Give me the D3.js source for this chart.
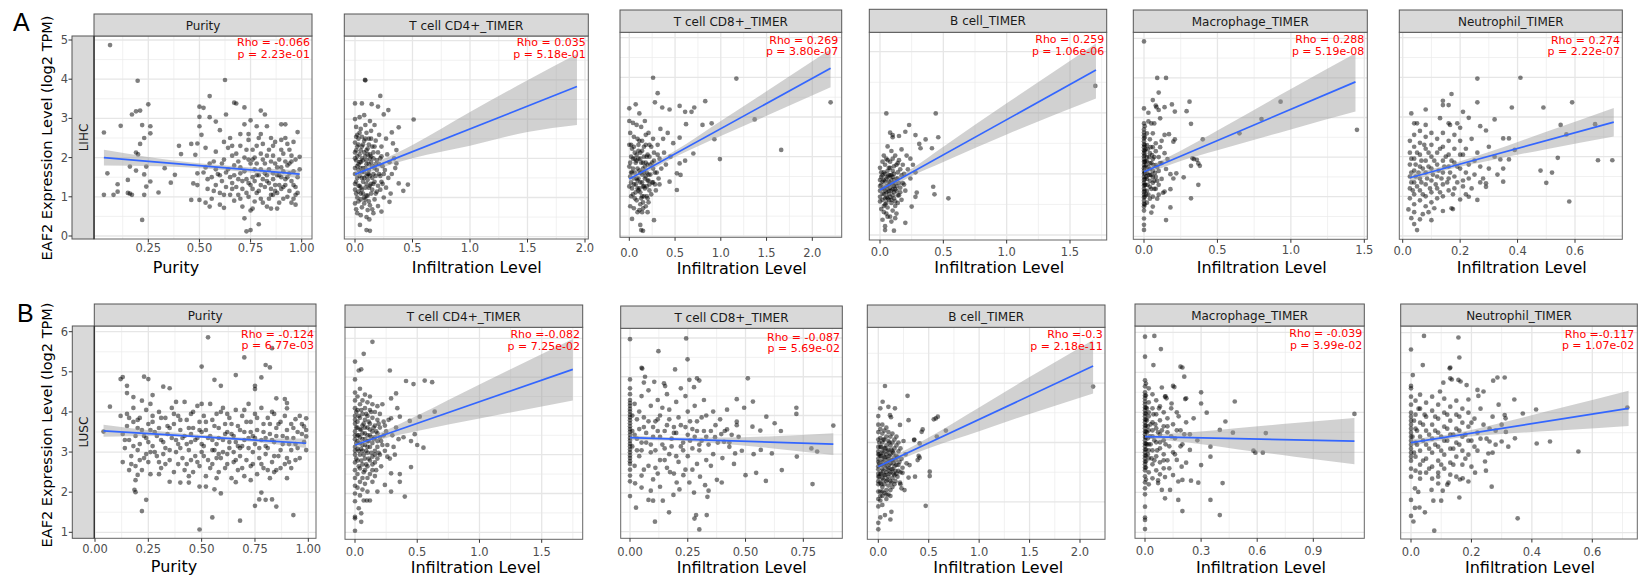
<!DOCTYPE html>
<html><head><meta charset="utf-8">
<script src="https://cdn.jsdelivr.net/npm/d3@7"></script>
<style>body{margin:0;background:#fff}</style>
</head><body><svg id="c" width="1644" height="579"></svg>
<script>
// ---------------- DATA ----------------
const cellTypes = ["Purity","T cell CD4+_TIMER","T cell CD8+_TIMER","B cell_TIMER","Macrophage_TIMER","Neutrophil_TIMER"];
const cancers = ["LIHC","LUSC"];
const rowLetters = ["A","B"];
const xTitles = ["Purity","Infiltration Level","Infiltration Level","Infiltration Level","Infiltration Level","Infiltration Level"];
const yTitle = "EAF2 Expression Level (log2 TPM)";
const rhoLabels = ["Rho = -0.066","Rho = 0.035","Rho = 0.269","Rho = 0.259","Rho = 0.288","Rho = 0.274",
                   "Rho = -0.124","Rho =-0.082","Rho = -0.087","Rho =-0.3","Rho = -0.039","Rho =-0.117"];
const pLabels = ["p = 2.23e-01","p = 5.18e-01","p = 3.80e-07","p = 1.06e-06","p = 5.19e-08","p = 2.22e-07",
                 "p = 6.77e-03","p = 7.25e-02","p = 5.69e-02","p = 2.18e-11","p = 3.99e-02","p = 1.07e-02"];
const xTicks = [[0.25,0.5,0.75,1.0],[0,0.5,1,1.5,2],[0,0.5,1,1.5,2],[0,0.5,1,1.5],[0,0.5,1,1.5],[0,0.2,0.4,0.6],
                [0,0.25,0.5,0.75,1.0],[0,0.5,1,1.5],[0,0.25,0.5,0.75],[0,0.5,1,1.5,2],[0,0.3,0.6,0.9],[0,0.2,0.4,0.6]];
const xTickFormat = [".2f",".1f",".1f",".1f",".1f",".1f",".2f",".1f",".2f",".1f",".1f",".1f"];
const yTickLabelsA = [0,1,2,3,4,5];
const yTickLabelsB = [1,2,3,4,5,6];

const fitLines = [
  [[0.033,2.0],[0.99,1.58]],[[0,1.59],[1.93,3.83]],[[0,1.44],[2.2,4.23]],[[0,1.47],[1.705,5.40]],[[0,1.63],[1.44,3.90]],[[0.025,1.47],[0.735,2.87]],
  [[0.04,3.53],[0.99,3.22]],[[0,3.25],[1.75,5.20]],[[0,3.43],[0.88,3.26]],[[0,3.19],[2.13,6.57]],[[0,3.39],[1.12,3.28]],[[0,3.25],[0.72,4.11]]
];
const bands = [
  [[0.033,1.8,2.2],[0.3,1.78,1.98],[0.6,1.69,1.81],[0.8,1.59,1.73],[0.99,1.48,1.68]],
  [[0,1.49,1.69],[0.25,1.78,1.98],[0.5,2.0,2.34],[1.0,2.32,3.18],[1.5,2.67,3.99],[1.93,2.85,4.66]],
  [[0,1.34,1.54],[0.5,1.99,2.15],[1.0,2.52,2.9],[1.5,3.03,3.65],[2.2,3.75,4.71]],
  [[0,1.32,1.62],[0.25,1.93,2.17],[0.5,2.39,2.89],[1.0,3.29,4.31],[1.705,4.47,6.27]],
  [[0,1.55,1.71],[0.25,1.9,2.16],[0.5,2.17,2.67],[1.0,2.7,3.72],[1.44,3.15,4.62]],
  [[0.025,1.36,1.58],[0.15,1.66,1.78],[0.3,1.9,2.12],[0.5,2.19,2.63],[0.735,2.51,3.23]],
  [[0.04,3.38,3.68],[0.3,3.4,3.52],[0.55,3.33,3.41],[0.8,3.22,3.34],[0.99,3.1,3.34]],
  [[0,3.17,3.33],[0.25,3.43,3.63],[0.5,3.61,4.01],[1.0,3.93,4.81],[1.75,4.4,5.98]],
  [[0,3.37,3.49],[0.2,3.35,3.43],[0.4,3.27,3.43],[0.6,3.16,3.46],[0.88,2.98,3.54]],
  [[0,3.07,3.31],[0.25,3.47,3.71],[0.5,3.81,4.17],[1.0,4.38,5.18],[1.5,4.96,6.2],[2.13,5.65,7.45]],
  [[0,3.35,3.43],[0.25,3.23,3.5],[0.5,3.07,3.61],[0.8,2.89,3.73],[1.12,2.7,3.86]],
  [[0,3.17,3.33],[0.15,3.37,3.49],[0.3,3.47,3.75],[0.5,3.56,4.13],[0.72,3.67,4.55]]
];

const lihcPurity = [[0.063,4.87],[0.198,3.96],[0.625,3.98],[0.55,3.57],[0.033,2.64],[0.115,2.81],[0.17,3.1],[0.19,3.18],[0.21,3.2],[0.25,3.36],[0.22,2.83],[0.26,2.8],[0.26,2.62],[0.23,2.5],[0.21,2.35],[0.19,2.13],[0.2,2.08],[0.16,1.77],[0.24,1.77],[0.19,1.67],[0.05,1.6],[0.1,1.32],[0.1,1.13],[0.15,1.43],[0.15,1.1],[0.16,1.08],[0.033,1.05],[0.08,1.05],[0.17,1.05],[0.23,1.05],[0.23,1.57],[0.26,1.39],[0.24,1.26],[0.22,0.41],[0.3,1.11],[0.33,1.73],[0.36,1.36],[0.38,1.56],[0.4,2.3],[0.41,2.09],[0.46,2.35],[0.46,0.92],[0.5,3.3],[0.52,3.27],[0.5,3.04],[0.5,2.8],[0.51,2.58],[0.49,2.36],[0.48,2.07],[0.49,1.6],[0.47,1.34],[0.49,1.3],[0.5,0.92],[0.55,3.03],[0.58,2.92],[0.6,2.7],[0.55,1.85],[0.53,1.75],[0.57,1.9],[0.56,1.5],[0.54,1.2],[0.58,1.3],[0.6,1.1],[0.56,0.95],[0.53,0.85],[0.62,0.72],[0.6,1.55],[0.62,1.95],[0.63,3.1],[0.65,2.5],[0.66,2.05],[0.64,1.7],[0.66,1.35],[0.65,1.05],[0.67,3.4],[0.68,3.38],[0.7,2.3],[0.69,1.9],[0.7,1.6],[0.68,1.25],[0.7,0.95],[0.71,0.75],[0.72,0.45],[0.73,0.12],[0.75,0.15],[0.72,2.85],[0.72,3.28],[0.74,2.6],[0.75,2.95],[0.76,2.2],[0.74,1.95],[0.73,1.45],[0.75,1.3],[0.74,1.0],[0.76,0.7],[0.75,0.65],[0.78,2.8],[0.8,3.2],[0.82,3.1],[0.79,2.5],[0.8,2.1],[0.78,1.85],[0.79,1.55],[0.8,1.3],[0.78,1.1],[0.81,0.85],[0.79,0.3],[0.83,2.05],[0.84,1.7],[0.83,1.4],[0.85,1.2],[0.84,0.95],[0.85,0.7],[0.83,2.8],[0.86,2.3],[0.87,1.85],[0.88,1.55],[0.86,1.05],[0.88,0.7],[0.9,2.85],[0.92,2.85],[0.9,2.45],[0.92,2.5],[0.91,2.1],[0.9,1.75],[0.92,1.45],[0.91,1.25],[0.93,1.0],[0.94,2.2],[0.95,1.9],[0.94,1.6],[0.96,1.3],[0.95,0.85],[0.97,1.05],[0.98,2.65],[0.99,2.02],[0.98,1.5],[0.97,0.8],[0.96,2.4],[0.89,1.3],[0.87,1.15],[0.82,1.6],[0.77,1.7],[0.71,1.2],[0.69,1.45],[0.63,1.25],[0.61,1.4],[0.58,1.7],[0.67,1.8],[0.72,2.0],[0.76,1.5],[0.81,1.95],[0.86,1.6],[0.9,1.5],[0.93,1.8],[0.85,2.5],[0.8,2.6],[0.77,2.0],[0.65,1.5]];
const lihcPurityCore = [[0.52,1.62],[0.54,1.45],[0.57,1.15],[0.59,1.58],[0.61,1.85],[0.62,1.05],[0.63,1.62],[0.64,2.25],[0.66,1.2],[0.67,1.55],[0.68,2.1],[0.69,1.05],[0.7,1.75],[0.71,1.4],[0.72,1.65],[0.73,2.2],[0.73,1.1],[0.74,1.35],[0.75,1.85],[0.76,1.2],[0.76,1.95],[0.77,1.4],[0.78,1.55],[0.78,2.3],[0.79,1.15],[0.8,1.7],[0.8,0.95],[0.81,1.45],[0.81,2.35],[0.82,1.25],[0.82,1.85],[0.83,1.55],[0.84,2.2],[0.84,1.35],[0.85,1.9],[0.85,1.05],[0.86,1.45],[0.86,2.05],[0.87,1.3],[0.87,2.4],[0.88,1.75],[0.88,1.1],[0.89,1.95],[0.89,1.55],[0.9,1.2],[0.9,2.2],[0.91,1.65],[0.91,0.95],[0.92,1.9],[0.92,1.3],[0.93,2.35],[0.93,1.5],[0.94,1.15],[0.94,1.85],[0.95,1.4],[0.95,2.05],[0.96,1.65],[0.97,1.25],[0.97,1.95],[0.98,1.1],[0.99,1.7],[0.74,2.45],[0.7,2.6],[0.66,2.3],[0.62,2.4],[0.58,2.15],[0.53,2.25],[0.55,0.75],[0.6,0.8],[0.67,0.9],[0.77,0.88],[0.83,0.75],[0.89,0.85],[0.96,0.95]];

const lihcCD4 = [[0.087,4.0],[0.09,3.99],[0.22,3.59],[0.0,3.4],[0.06,3.4],[0.145,3.38],[0.2,3.32],[0.29,3.23],[0.25,3.12],[0.51,2.99],[0.38,2.79],[0.32,2.66],[0.33,2.38],[0.36,2.21],[0.36,1.87],[0.38,1.36],[0.46,1.33],[0.42,1.17],[0.3,0.89],[0.23,0.64],[0.043,0.3],[0.125,0.44],[0.1,0.17],[0.13,0.15],
[0.0,3.0],[0.01,2.8],[0.02,2.6],[0.0,2.4],[0.01,2.2],[0.0,2.0],[0.02,1.8],[0.0,1.6],[0.01,1.4],[0.0,1.2],[0.02,1.0],[0.0,0.85],[0.01,0.7],
[0.04,3.05],[0.05,2.75],[0.03,2.5],[0.06,2.3],[0.04,2.1],[0.05,1.9],[0.03,1.7],[0.06,1.5],[0.04,1.3],[0.05,1.1],[0.03,0.9],[0.06,0.75],[0.05,0.55],
[0.08,3.1],[0.09,2.85],[0.1,2.65],[0.08,2.45],[0.11,2.25],[0.09,2.05],[0.1,1.85],[0.08,1.65],[0.11,1.45],[0.09,1.25],[0.1,1.05],[0.08,0.85],[0.11,0.68],[0.1,0.5],
[0.13,2.95],[0.14,2.7],[0.12,2.5],[0.15,2.3],[0.13,2.1],[0.14,1.9],[0.12,1.7],[0.15,1.5],[0.13,1.3],[0.14,1.1],[0.12,0.9],[0.15,0.7],
[0.17,2.85],[0.18,2.45],[0.16,2.15],[0.19,1.95],[0.17,1.75],[0.18,1.55],[0.16,1.35],[0.19,1.15],[0.17,0.95],[0.2,0.78],
[0.21,2.6],[0.23,2.3],[0.22,2.0],[0.24,1.8],[0.21,1.6],[0.23,1.4],[0.22,1.2],[0.25,1.0],
[0.27,2.5],[0.28,2.1],[0.26,1.7],[0.29,1.5],[0.27,1.25],[0.3,1.9],[0.32,1.6],[0.34,2.0],[0.35,1.75],[0.31,1.1],
[0.07,1.95],[0.12,1.6],[0.06,1.2],[0.1,2.2],[0.02,2.3],[0.14,2.05],[0.07,1.4],[0.03,1.15],[0.1,1.55],[0.05,1.75]];
const lihcCD4Core = [[0.0,1.75],[0.0,2.15],[0.0,1.35],[0.01,1.95],[0.01,2.55],[0.01,1.1],[0.02,1.5],[0.02,2.05],[0.03,1.85],[0.03,2.35],[0.03,1.3],[0.04,1.55],[0.04,1.9],[0.04,2.65],[0.05,1.25],[0.05,2.2],[0.06,1.65],[0.06,2.0],[0.06,2.55],[0.07,1.1],[0.07,1.75],[0.07,2.35],[0.08,1.5],[0.08,2.15],[0.08,1.0],[0.09,1.75],[0.09,2.5],[0.1,1.35],[0.1,1.95],[0.11,1.6],[0.11,2.1],[0.11,1.05],[0.12,1.85],[0.12,2.35],[0.12,1.25],[0.13,1.55],[0.13,2.0],[0.14,1.35],[0.14,2.5],[0.15,1.8],[0.15,1.2],[0.16,1.6],[0.16,2.0],[0.17,1.4],[0.17,2.3],[0.18,1.85],[0.18,1.1],[0.19,1.7],[0.2,2.15],[0.2,1.3],[0.21,1.85],[0.22,1.55],[0.23,2.05],[0.24,1.35],[0.25,1.6],[0.09,0.95],[0.05,0.95],[0.13,0.8],[0.02,0.6],[0.16,0.6]];

const lihcCD8 = [[0.26,3.99],[1.17,3.97],[0.31,3.6],[2.2,3.37],[0.83,3.4],[0.0,3.22],[0.07,3.32],[0.28,3.37],[0.36,3.24],[0.44,3.19],[0.55,3.28],[0.61,3.13],[0.68,3.13],[0.71,3.24],[0.11,3.09],[1.37,2.94],[0.8,2.8],[0.9,2.84],[0.62,2.82],[0.93,2.44],[0.55,2.48],[0.48,2.34],[1.66,2.17],[0.99,1.94],[0.7,2.08],[0.61,1.9],[0.55,1.83],[0.52,1.58],[0.56,1.54],[0.44,1.37],[0.52,1.16],[0.27,0.4],[0.03,0.43],[0.12,0.28],[0.13,0.15],[0.15,0.13],
[0.0,2.9],[0.01,2.6],[0.0,2.3],[0.02,2.0],[0.0,1.75],[0.01,1.5],[0.0,1.25],[0.02,1.0],[0.01,0.75],
[0.04,2.85],[0.05,2.5],[0.03,2.2],[0.06,1.95],[0.04,1.7],[0.05,1.45],[0.03,1.2],[0.06,0.95],[0.05,0.7],
[0.08,2.8],[0.09,2.45],[0.1,2.15],[0.08,1.9],[0.11,1.65],[0.09,1.4],[0.1,1.15],[0.08,0.9],[0.11,0.65],
[0.13,2.75],[0.14,2.4],[0.12,2.1],[0.15,1.85],[0.13,1.6],[0.14,1.35],[0.12,1.1],[0.15,0.85],[0.14,0.6],
[0.17,2.9],[0.18,2.55],[0.16,2.25],[0.19,2.0],[0.17,1.75],[0.18,1.5],[0.16,1.25],[0.19,1.0],[0.18,0.75],
[0.21,2.6],[0.22,2.3],[0.2,2.05],[0.23,1.8],[0.21,1.55],[0.22,1.3],[0.24,1.05],[0.21,0.85],
[0.26,2.45],[0.27,2.1],[0.25,1.85],[0.28,1.6],[0.26,1.35],[0.29,1.15],[0.31,2.3],[0.33,1.95],[0.35,1.7],[0.32,1.45],[0.38,2.1],[0.4,1.8],[0.37,2.45],[0.42,2.6],[0.45,2.0],[0.34,2.7],
[0.07,1.3],[0.12,1.95],[0.16,1.6],[0.02,1.6],[0.1,2.3],[0.2,1.4],[0.06,2.1],[0.14,1.0]];
const lihcCD8Core = [[0.01,1.85],[0.02,1.35],[0.02,2.3],[0.03,1.6],[0.04,1.05],[0.04,1.95],[0.05,1.3],[0.05,2.25],[0.06,1.6],[0.07,1.85],[0.07,1.1],[0.08,1.45],[0.08,2.05],[0.09,1.7],[0.09,1.2],[0.1,1.95],[0.1,1.45],[0.11,1.2],[0.11,2.4],[0.12,1.6],[0.12,1.35],[0.13,1.85],[0.13,0.95],[0.14,1.55],[0.14,2.15],[0.15,1.25],[0.15,1.7],[0.16,1.0],[0.16,2.0],[0.17,1.45],[0.17,1.2],[0.18,1.85],[0.18,2.3],[0.19,1.6],[0.19,1.25],[0.2,1.8],[0.2,0.95],[0.21,1.4],[0.22,2.0],[0.22,1.15],[0.23,1.55],[0.24,2.25],[0.25,1.35],[0.26,1.7],[0.27,1.9],[0.28,1.3],[0.3,1.6],[0.31,2.05],[0.33,1.3],[0.15,0.7],[0.09,0.6],[0.2,0.6],[0.12,0.8]];

const lihcB = [[1.7,4.88],[0.05,3.98],[0.44,3.98],[0.23,3.6],[0.08,3.35],[0.1,3.27],[0.1,3.2],[0.15,3.24],[0.2,3.38],[0.28,3.27],[0.31,2.98],[0.36,3.13],[0.46,3.2],[0.41,2.84],[0.32,2.84],[0.24,2.5],[0.42,1.58],[0.43,1.33],[0.54,1.2],[0.29,1.39],[0.28,1.25],[0.25,0.93],[0.2,0.4],[0.09,0.44],[0.04,0.29],[0.04,0.16],[0.11,0.14],
[0.0,2.2],[0.01,1.9],[0.0,1.6],[0.02,1.35],[0.0,1.1],[0.01,0.85],[0.03,2.6],[0.02,2.4],
[0.03,2.05],[0.04,1.75],[0.03,1.5],[0.04,1.2],[0.03,0.95],[0.05,0.7],
[0.06,2.9],[0.05,2.5],[0.07,2.2],[0.06,1.9],[0.07,1.65],[0.05,1.4],[0.07,1.15],[0.06,0.9],[0.06,0.6],
[0.09,2.75],[0.08,2.4],[0.1,2.1],[0.09,1.8],[0.08,1.55],[0.1,1.3],[0.09,1.05],[0.1,0.8],
[0.12,2.6],[0.13,2.3],[0.11,2.0],[0.12,1.7],[0.13,1.45],[0.11,1.2],[0.12,0.95],[0.13,0.7],
[0.15,2.45],[0.16,2.15],[0.14,1.85],[0.16,1.55],[0.15,1.3],[0.14,1.05],
[0.18,2.3],[0.19,2.0],[0.18,1.7],[0.2,1.45],[0.22,2.15],[0.24,1.85],[0.26,2.3],[0.21,2.6],[0.17,2.8],[0.28,2.05],
[0.04,2.3],[0.08,1.95],[0.11,1.6],[0.07,1.35],[0.02,1.75],[0.14,2.35],[0.1,1.5],[0.05,1.05]];
const lihcBCore = [[0.0,1.45],[0.0,1.8],[0.0,1.25],[0.01,1.65],[0.01,2.05],[0.02,1.15],[0.02,1.55],[0.02,1.95],[0.03,1.35],[0.03,1.8],[0.04,1.45],[0.04,2.0],[0.04,1.0],[0.05,1.6],[0.05,1.25],[0.05,1.85],[0.06,1.5],[0.06,2.1],[0.06,1.2],[0.07,1.75],[0.07,1.45],[0.07,1.95],[0.08,1.25],[0.08,1.7],[0.08,2.2],[0.09,1.45],[0.09,1.95],[0.09,1.15],[0.1,1.65],[0.1,1.9],[0.11,1.4],[0.11,1.8],[0.11,2.25],[0.12,1.5],[0.12,1.1],[0.13,1.85],[0.13,1.6],[0.14,1.3],[0.14,2.05],[0.15,1.7],[0.16,1.4],[0.17,1.95],[0.17,1.15],[0.19,1.65],[0.03,0.75],[0.08,0.6],[0.12,0.55],[0.02,0.5],[0.1,2.5],[0.06,2.45]];

const lihcMac = [[0,4.92],[0.09,4.0],[0.15,4.0],[0.1,3.63],[0.06,3.44],[0.31,3.4],[0.93,3.4],[0.08,3.3],[0.085,3.26],[0.14,3.26],[0.19,3.33],[0,3.23],[0.03,3.12],[0.1,3.19],[0.21,3.15],[0.29,3.16],[0.11,2.98],[0.05,2.85],[0.07,2.85],[0.32,2.84],[0.8,2.96],[0.65,2.6],[0.4,2.45],[1.45,2.69],[0.21,2.45],[0.14,2.56],[0.17,2.58],[0.12,2.41],[0.2,2.39],[0.33,1.97],[0.34,1.95],[0.36,1.93],[0.37,1.84],[0.38,1.78],[0.32,1.78],[0.22,1.59],[0.18,1.57],[0.2,1.46],[0.27,1.49],[0.37,1.3],[0.18,1.19],[0.14,1.13],[0.32,0.96],[0.18,0.73],[0.15,0.41],[0,0.45],[0,0.29],[0,0.16],
[0,2.85],[0,2.7],[0,2.55],[0,2.4],[0,2.25],[0,2.1],[0,1.95],[0,1.8],[0,1.65],[0,1.5],[0,1.35],[0,1.2],[0,1.05],[0,0.9],[0,0.75],[0,0.65],
[0.005,2.78],[0.005,2.5],[0.005,2.15],[0.005,1.88],[0.005,1.6],[0.005,1.3],[0.005,1.0],[0.005,0.8],
[0.02,2.6],[0.02,2.3],[0.02,2.0],[0.02,1.7],[0.02,1.45],[0.02,1.15],[0.02,0.85],
[0.04,2.45],[0.04,2.1],[0.04,1.85],[0.04,1.55],[0.04,1.25],[0.04,0.95],
[0.06,2.6],[0.06,2.25],[0.06,1.95],[0.06,1.65],[0.06,1.35],[0.06,1.0],[0.06,0.75],
[0.08,2.15],[0.08,1.8],[0.08,1.5],[0.08,1.2],[0.1,2.0],[0.1,1.65],[0.1,1.3],[0.12,1.85],[0.12,1.45],[0.14,2.1],[0.15,1.7],[0.13,1.1],[0.09,0.95],[0.11,2.25],[0.16,1.95],[0.03,2.9],[0.05,0.6],[0.07,1.4]];
const lihcMacCore = [[0,1.58],[0,1.72],[0,1.88],[0,2.02],[0,2.17],[0,1.42],[0,1.28],[0,1.12],[0,0.98],[0,2.32],[0,2.47],[0,2.62],[0,0.82],[0.005,1.45],[0.005,1.75],[0.005,2.05],[0.005,2.3],[0.005,1.15],[0.01,1.6],[0.01,1.9],[0.01,1.3],[0.01,2.2],[0.015,1.5],[0.015,1.8],[0.015,1.05],[0.02,1.6],[0.02,1.9],[0.025,1.3],[0.025,2.2],[0.03,1.55],[0.03,1.75],[0.03,1.05],[0.035,2.0],[0.04,1.4],[0.04,1.7],[0.045,2.25],[0.05,1.2],[0.05,1.55],[0.05,1.85],[0.055,2.05],[0.06,1.5],[0.065,1.8],[0.07,1.2],[0.07,2.0],[0.075,1.6],[0.08,2.35],[0.09,1.4],[0.09,1.75],[0.1,1.05],[0.11,1.85]];

const lihcNeu = [[0.26,3.97],[0.41,3.99],[0.17,3.58],[0.14,3.41],[0.26,3.37],[0.14,3.3],[0.16,3.3],[0.38,3.24],[0.49,3.24],[0.59,3.37],[0.08,3.19],[0.03,3.09],[0.21,3.13],[0.13,2.97],[0.23,2.98],[0.32,2.94],[0.04,2.84],[0.05,2.84],[0.08,2.8],[0.16,2.84],[0.165,2.8],[0.19,2.84],[0.27,2.77],[0.55,2.8],[0.67,2.82],[0.29,2.66],[0.2,2.73],[0.57,2.56],[0.35,2.46],[0.37,2.46],[0.39,2.17],[0.37,1.93],[0.34,1.93],[0.54,1.97],[0.68,1.91],[0.73,1.91],[0.48,1.65],[0.52,1.6],[0.5,1.34],[0.35,1.37],[0.58,0.87],[0.29,1.33],[0.29,1.24],[0.26,0.91],[0.23,0.99],[0.2,0.92],[0.17,0.7],[0.175,0.68],[0.14,0.63],[0.1,0.4],[0.04,0.3],[0.05,0.15],[0.02,0.67],[0.06,0.42],
[0.025,2.4],[0.025,2.1],[0.025,1.8],[0.025,1.5],[0.025,1.2],[0.025,0.95],
[0.04,2.55],[0.04,2.25],[0.04,1.95],[0.04,1.65],[0.04,1.35],[0.04,1.05],[0.04,0.8],
[0.06,2.65],[0.06,2.35],[0.06,2.05],[0.06,1.75],[0.06,1.45],[0.06,1.15],[0.06,0.9],
[0.08,2.5],[0.08,2.2],[0.08,1.9],[0.08,1.6],[0.08,1.3],[0.08,1.0],[0.08,0.75],
[0.1,2.6],[0.1,2.3],[0.1,2.0],[0.1,1.7],[0.1,1.4],[0.1,1.1],[0.1,0.85],
[0.12,2.45],[0.12,2.1],[0.12,1.8],[0.12,1.5],[0.12,1.2],[0.12,0.95],
[0.14,2.6],[0.14,2.25],[0.14,1.9],[0.14,1.6],[0.14,1.3],[0.14,1.0],
[0.16,2.4],[0.16,2.05],[0.16,1.75],[0.16,1.45],[0.16,1.15],
[0.18,2.55],[0.18,2.2],[0.18,1.85],[0.18,1.5],[0.18,1.2],
[0.2,2.4],[0.21,2.05],[0.2,1.7],[0.21,1.4],[0.22,2.2],[0.23,1.8],[0.24,2.45],[0.25,1.55],[0.26,2.1],[0.27,1.75],[0.28,1.45],[0.24,1.2],[0.3,1.7],[0.32,2.0],[0.3,2.25],[0.22,1.05],[0.35,1.7],[0.33,1.55]];
const lihcNeuCore = [[0.03,1.6],[0.03,1.35],[0.03,1.95],[0.035,1.15],[0.045,1.5],[0.045,1.8],[0.05,2.1],[0.05,1.25],[0.055,1.6],[0.065,1.9],[0.065,1.35],[0.07,1.05],[0.07,1.7],[0.075,2.3],[0.085,1.45],[0.09,1.75],[0.09,2.1],[0.095,1.2],[0.105,1.55],[0.11,1.9],[0.115,1.3],[0.125,1.65],[0.13,2.2],[0.13,1.1],[0.135,1.45],[0.145,1.75],[0.15,2.0],[0.155,1.35],[0.165,1.6],[0.17,1.9],[0.175,1.05],[0.19,1.35],[0.19,1.75],[0.2,2.05],[0.21,1.25],[0.22,1.6],[0.23,1.45],[0.25,1.9],[0.27,1.35],[0.04,0.6],[0.07,0.55],[0.11,0.7],[0.03,0.45],[0.09,0.6]];

const luscPurity = [[0.53,5.86],[0.5,5.13],[0.7,5.36],[0.8,5.17],[0.82,5.11],[0.83,5.59],[0.66,4.92],[0.78,4.86],[0.12,4.82],[0.13,4.87],[0.23,4.88],[0.25,4.82],[0.56,4.8],[0.32,4.63],[0.35,4.59],[0.75,4.65],[0.75,4.57],[0.59,4.65],[0.22,4.28],[0.27,4.42],[0.18,4.37],[0.15,4.47],[0.15,4.65],[0.49,1.07],[0.55,1.37],[0.68,1.29],[0.93,1.43],[0.22,1.53],[0.24,1.81],[0.19,2.0],[0.185,2.06],[0.19,2.3],[0.2,2.43],[0.26,2.45],[0.35,2.26],[0.4,2.24],[0.44,2.24],[0.49,2.14],[0.52,2.14],[0.59,1.97],[0.56,2.07],[0.75,1.66],[0.77,1.82],[0.8,1.81],[0.78,1.99],[0.83,1.82],[0.85,1.64],[0.9,2.35],[0.94,2.8],[0.99,3.05],[0.99,3.39],[0.99,3.55],[0.99,3.84],[0.98,3.64],[0.95,3.5],[0.94,3.82],[0.9,4.22],[0.89,4.32],[0.85,4.34],[0.83,4.0],[0.9,4.09],[0.07,4.13],[0.04,3.51],
[0.12,3.9],[0.13,3.45],[0.14,3.1],[0.13,2.75],[0.15,3.65],[0.16,3.3],[0.17,2.9],[0.16,2.55],[0.18,4.1],[0.18,3.75],[0.19,3.4],[0.2,3.05],[0.19,2.65],[0.21,3.85],[0.22,3.55],[0.21,3.2],[0.23,2.85],[0.22,2.55],[0.24,4.05],[0.25,3.7],[0.24,3.35],[0.26,3.0],[0.25,2.75],[0.27,3.9],[0.28,3.5],[0.27,3.15],[0.29,2.9],[0.3,4.0],[0.3,3.6],[0.31,3.3],[0.32,2.95],[0.31,2.6],[0.33,3.85],[0.34,3.45],[0.33,3.1],[0.35,2.8],[0.36,4.1],[0.37,3.7],[0.36,3.35],[0.38,3.0],[0.37,2.5],[0.39,3.9],[0.4,3.55],[0.39,3.2],[0.41,2.85],[0.42,4.25],[0.43,3.8],[0.42,3.4],[0.44,3.05],[0.43,2.7],[0.45,3.95],[0.46,3.6],[0.45,3.25],[0.47,2.9],[0.46,2.5],[0.48,4.15],[0.49,3.75],[0.48,3.35],[0.5,3.0],[0.49,2.65],[0.51,3.9],[0.52,3.55],[0.51,3.15],[0.53,2.8],[0.52,2.4],[0.54,4.2],[0.55,3.8],[0.54,3.4],[0.56,3.05],[0.55,2.7],[0.57,3.95],[0.58,3.6],[0.57,3.2],[0.59,2.85],[0.58,2.5],[0.6,4.1],[0.61,3.7],[0.6,3.3],[0.62,2.95],[0.61,2.6],[0.63,3.85],[0.64,3.45],[0.63,3.1],[0.65,2.75],[0.64,2.35],[0.66,4.05],[0.67,3.65],[0.66,3.25],[0.68,2.9],[0.67,2.55],[0.69,3.9],[0.7,3.5],[0.69,3.15],[0.71,2.8],[0.7,2.4],[0.72,4.2],[0.73,3.75],[0.72,3.35],[0.74,3.0],[0.73,2.65],[0.75,3.95],[0.76,3.55],[0.75,3.2],[0.77,2.85],[0.76,2.45],[0.78,4.1],[0.79,3.7],[0.78,3.3],[0.8,2.95],[0.79,2.6],[0.81,3.85],[0.82,3.45],[0.81,3.1],[0.83,2.75],[0.82,2.35],[0.84,3.95],[0.85,3.6],[0.84,3.25],[0.86,2.9],[0.85,2.55],[0.87,3.75],[0.88,3.4],[0.87,3.05],[0.89,2.7],[0.9,3.55],[0.91,3.2],[0.9,2.85],[0.92,3.7],[0.93,3.35],[0.92,2.6],[0.95,3.1],[0.96,3.9],[0.97,3.45],[0.98,3.25],
[0.55,3.3],[0.62,3.5],[0.68,3.1],[0.45,3.45],[0.35,3.6],[0.25,3.25],[0.58,2.95],[0.74,3.4],[0.8,3.35],[0.65,3.0],[0.5,3.5],[0.4,3.1],[0.3,2.75],[0.2,3.6],[0.15,3.95]];
const luscPurityCore = [[0.14,3.3],[0.16,3.85],[0.17,2.7],[0.18,3.15],[0.2,3.8],[0.21,2.8],[0.23,3.4],[0.24,2.95],[0.26,3.55],[0.27,3.75],[0.28,3.0],[0.29,3.4],[0.31,3.85],[0.32,3.25],[0.33,2.7],[0.34,3.65],[0.35,3.05],[0.37,3.95],[0.38,3.3],[0.39,2.7],[0.4,3.8],[0.41,3.35],[0.42,2.55],[0.43,3.2],[0.44,3.6],[0.45,2.8],[0.46,4.0],[0.47,3.3],[0.48,2.75],[0.49,3.55],[0.5,3.2],[0.51,2.9],[0.52,3.75],[0.53,3.35],[0.54,2.6],[0.55,3.05],[0.56,3.65],[0.57,2.85],[0.58,3.35],[0.59,4.0],[0.6,3.0],[0.61,3.45],[0.62,2.7],[0.63,3.25],[0.64,3.7],[0.65,3.4],[0.66,2.8],[0.67,3.15],[0.68,3.55],[0.69,2.6],[0.7,3.3],[0.71,3.75],[0.72,3.1],[0.73,3.5],[0.74,2.7],[0.75,3.35],[0.76,3.85],[0.77,3.1],[0.78,2.7],[0.79,3.5],[0.8,3.15],[0.81,2.55],[0.82,3.7],[0.83,3.3],[0.84,2.9],[0.85,3.4],[0.86,3.7],[0.87,2.6],[0.88,3.2],[0.89,3.9],[0.9,3.35],[0.91,2.75],[0.92,3.05],[0.93,3.6],[0.94,3.2],[0.96,2.85],[0.97,3.7],[0.62,3.95],[0.5,4.2],[0.38,4.25],[0.26,4.2],[0.7,4.05],[0.44,2.4],[0.57,2.35],[0.66,2.25],[0.73,2.3],[0.3,2.45],[0.84,2.5]];

const luscCD4 = [[0.14,5.91],[0.07,5.6],[0,5.4],[0.03,5.17],[0.05,5.2],[0,4.94],[0.28,5.17],[0.41,4.9],[0.47,4.82],[0.56,4.91],[0.62,4.87],[0.64,4.11],[0.52,3.98],[0.44,3.87],[0.36,3.98],[0.29,3.94],[0.33,4.58],[0.29,4.45],[0.39,3.45],[0.48,3.53],[0.45,3.35],[0.5,3.25],[0.55,3.18],[0.45,2.68],[0.36,2.5],[0.36,2.3],[0.29,2.52],[0.24,2.22],[0.18,2.05],[0.29,2.05],[0.4,1.92],[0.07,1.82],[0.095,1.82],[0.12,1.82],[0.03,1.62],[0,1.36],[0,1.4],[0.05,1.27],[0,1.04],[0.05,1.49],
[0,4.6],[0,4.4],[0,4.2],[0,4.0],[0,3.8],[0,3.6],[0,3.4],[0,3.2],[0,3.0],[0,2.8],[0,2.6],[0,2.4],[0,2.2],[0,2.0],[0,1.8],
[0.02,4.5],[0.02,4.15],[0.02,3.85],[0.02,3.5],[0.02,3.15],[0.02,2.85],[0.02,2.5],[0.02,2.15],
[0.04,4.7],[0.04,4.3],[0.04,3.95],[0.04,3.65],[0.04,3.3],[0.04,3.0],[0.04,2.65],[0.04,2.3],[0.04,1.95],
[0.06,4.4],[0.06,4.05],[0.06,3.75],[0.06,3.4],[0.06,3.1],[0.06,2.75],[0.06,2.4],[0.06,2.1],
[0.08,4.55],[0.08,4.2],[0.08,3.9],[0.08,3.55],[0.08,3.25],[0.08,2.9],[0.08,2.6],[0.08,2.25],
[0.1,4.35],[0.1,4.0],[0.1,3.7],[0.1,3.35],[0.1,3.05],[0.1,2.7],[0.1,2.4],[0.1,2.05],
[0.12,4.5],[0.12,4.15],[0.12,3.8],[0.12,3.5],[0.12,3.2],[0.12,2.85],[0.12,2.5],
[0.14,4.3],[0.14,3.95],[0.14,3.6],[0.14,3.3],[0.14,2.95],[0.14,2.6],[0.14,2.3],
[0.16,4.1],[0.16,3.75],[0.16,3.45],[0.16,3.1],[0.16,2.8],[0.16,2.45],
[0.18,4.25],[0.18,3.9],[0.18,3.55],[0.18,3.2],[0.18,2.9],
[0.2,4.05],[0.2,3.7],[0.21,3.35],[0.2,3.0],[0.21,2.7],[0.22,4.3],[0.23,3.85],[0.23,3.5],[0.24,3.1],[0.25,3.6],[0.26,3.25],[0.27,3.9],[0.28,2.9],[0.3,3.5],[0.31,3.2],[0.33,3.7],[0.32,3.0],[0.34,4.2],[0.35,3.4]];
const luscCD4Core = [[0.0,3.5],[0.0,3.1],[0.0,3.9],[0.01,3.3],[0.01,3.7],[0.01,2.9],[0.01,4.1],[0.02,3.35],[0.02,3.7],[0.03,3.1],[0.03,3.5],[0.03,4.0],[0.03,2.7],[0.04,3.45],[0.05,3.15],[0.05,3.65],[0.05,2.85],[0.05,4.15],[0.06,3.25],[0.06,3.55],[0.07,3.0],[0.07,3.8],[0.07,2.55],[0.08,3.4],[0.08,3.7],[0.09,3.1],[0.09,4.05],[0.09,2.75],[0.1,3.5],[0.1,3.2],[0.11,3.85],[0.11,2.9],[0.11,3.35],[0.12,3.65],[0.13,3.05],[0.13,3.45],[0.13,4.1],[0.14,2.75],[0.15,3.4],[0.15,3.7],[0.16,3.0],[0.17,3.6],[0.17,2.6],[0.18,3.35],[0.19,3.8],[0.19,3.05],[0.2,3.45],[0.22,3.25],[0.24,3.75],[0.26,2.95]];

const luscCD8 = [[0,5.97],[0.243,5.99],[0.123,5.66],[0.249,5.45],[0.05,5.23],[0.053,5.21],[0.195,5.19],[0,4.93],[0.065,5.0],[0.105,4.87],[0.147,4.83],[0.152,4.76],[0.257,4.92],[0.29,4.96],[0.3,4.9],[0.277,4.73],[0.51,4.96],[0.462,4.42],[0.532,4.36],[0.494,4.2],[0.72,4.2],[0.72,4.04],[0.59,3.97],[0.626,3.8],[0.653,3.6],[0.53,3.71],[0.564,3.61],[0.88,3.74],[0.462,3.84],[0.462,3.75],[0.42,3.64],[0.395,3.52],[0.368,3.44],[0.407,3.32],[0.43,3.19],[0.455,3.02],[0.484,3.09],[0.535,3.0],[0.566,3.11],[0.614,3.02],[0.722,2.94],[0.785,3.15],[0.81,3.07],[0.657,2.59],[0.546,2.52],[0.5,2.46],[0.588,2.31],[0.79,2.23],[0.397,2.27],[0.376,2.34],[0.335,1.9],[0.34,2.06],[0.325,2.2],[0.303,2.42],[0.277,2.01],[0.286,1.43],[0.332,1.43],[0.3,1.06],[0.279,1.34],[0.108,1.26],[0.169,1.5],[0.026,1.62],[0,1.92],[0.08,1.82],[0.1,1.8],[0.142,1.8],[0.09,2.06],[0.13,2.16],[0.188,1.95],[0.214,2.09],[0.202,2.27],[0.257,2.27],[0.231,2.46],[0.173,2.54],[0.05,2.14],[0.022,2.25],
[0,4.7],[0,4.55],[0,4.4],[0,4.25],[0,4.1],[0,3.95],[0,3.8],[0,3.65],[0,3.5],[0,3.35],[0,3.2],[0,3.05],[0,2.9],[0,2.75],[0,2.6],[0,2.45],[0,2.3],
[0.02,4.3],[0.03,3.9],[0.02,3.5],[0.03,3.1],[0.02,2.7],
[0.05,4.5],[0.04,4.1],[0.06,3.7],[0.05,3.3],[0.04,2.95],[0.06,2.6],
[0.08,4.65],[0.09,4.25],[0.08,3.85],[0.1,3.45],[0.09,3.05],[0.08,2.7],[0.1,2.35],
[0.12,4.4],[0.13,4.0],[0.12,3.6],[0.14,3.25],[0.13,2.85],[0.12,2.5],
[0.16,4.55],[0.17,4.15],[0.16,3.75],[0.18,3.4],[0.17,3.0],[0.16,2.65],
[0.2,4.35],[0.21,3.95],[0.2,3.55],[0.22,3.2],[0.21,2.8],
[0.24,4.5],[0.25,4.1],[0.24,3.7],[0.26,3.35],[0.25,2.95],[0.24,2.6],
[0.28,4.25],[0.29,3.85],[0.28,3.45],[0.3,3.1],[0.29,2.75],
[0.32,4.4],[0.33,4.0],[0.32,3.6],[0.34,3.25],[0.33,2.85],
[0.36,4.1],[0.37,3.75],[0.36,3.0],[0.39,3.9],[0.4,2.9],[0.42,4.15],[0.44,3.5],[0.45,2.75],
[0.07,3.3],[0.11,3.85],[0.15,3.15],[0.19,3.7],[0.23,3.3],[0.27,3.65],[0.31,3.35],[0.14,4.2],[0.06,4.85],[0.22,4.7]];
const luscCD8Core = [[0,3.42],[0,3.58],[0,3.72],[0,3.88],[0,4.02],[0,3.27],[0,3.12],[0,2.97],[0,4.17],[0,4.32],[0,2.82],[0.01,3.6],[0.01,3.2],[0.01,4.0],[0.03,3.4],[0.04,3.65],[0.05,3.1],[0.06,3.95],[0.07,3.55],[0.09,3.25],[0.1,3.7],[0.11,3.1],[0.12,3.9],[0.13,3.45],[0.15,3.6],[0.15,2.85],[0.17,3.9],[0.18,3.2],[0.19,3.55],[0.2,2.95],[0.22,3.75],[0.23,3.1],[0.25,3.5],[0.26,3.85],[0.27,3.15],[0.29,3.6],[0.3,3.25],[0.31,3.95],[0.33,3.45],[0.35,3.6],[0.35,2.7],[0.38,3.3],[0.41,3.6],[0.43,3.3],[0.47,3.45],[0.27,2.6],[0.19,2.5],[0.11,2.65],[0.05,2.45]];

const luscB = [[2.13,5.88],[0.066,5.9],[0.29,5.57],[0.043,5.37],[0.02,5.15],[0.1,5.2],[0.165,5.15],[0,4.89],[0.116,4.92],[0.126,4.85],[0.59,4.87],[0.57,4.81],[0.55,4.78],[0.67,4.4],[0.44,4.44],[0.43,4.36],[0.3,4.75],[0.215,4.59],[0.357,4.1],[0.355,4.08],[0.41,3.97],[0.58,4.2],[0.4,3.55],[0.39,3.41],[0.41,3.49],[0.31,3.24],[0.24,2.98],[0.3,2.82],[0.364,2.85],[0.51,3.02],[0.51,2.87],[0.215,2.65],[0.23,2.46],[0.26,2.4],[0.47,1.87],[0.13,1.67],[0.12,1.41],[0.066,1.56],[0,1.3],[0,1.08],[0.02,1.48],
[0,4.6],[0,4.35],[0,4.1],[0,3.85],[0,3.6],[0,3.35],[0,3.1],[0,2.85],[0,2.6],[0,2.35],[0,2.1],[0,1.85],
[0.02,4.45],[0.02,4.15],[0.02,3.85],[0.02,3.55],[0.02,3.25],[0.02,2.95],[0.02,2.65],[0.02,2.35],[0.02,2.05],
[0.04,4.6],[0.04,4.3],[0.04,4.0],[0.04,3.7],[0.04,3.4],[0.04,3.1],[0.04,2.8],[0.04,2.5],[0.04,2.2],[0.04,1.9],
[0.06,4.4],[0.06,4.1],[0.06,3.8],[0.06,3.5],[0.06,3.2],[0.06,2.9],[0.06,2.6],[0.06,2.3],
[0.08,4.5],[0.08,4.2],[0.08,3.9],[0.08,3.6],[0.08,3.3],[0.08,3.0],[0.08,2.7],[0.08,2.4],[0.08,2.1],
[0.1,4.35],[0.1,4.05],[0.1,3.75],[0.1,3.45],[0.1,3.15],[0.1,2.85],[0.1,2.55],[0.1,2.25],
[0.12,4.2],[0.12,3.9],[0.12,3.6],[0.12,3.3],[0.12,3.0],[0.12,2.7],[0.12,2.4],
[0.14,4.3],[0.14,4.0],[0.14,3.7],[0.14,3.4],[0.14,3.1],[0.14,2.8],[0.14,2.5],
[0.16,4.1],[0.16,3.8],[0.16,3.5],[0.16,3.2],[0.16,2.9],[0.16,2.6],
[0.18,4.2],[0.18,3.9],[0.18,3.55],[0.18,3.25],[0.18,2.95],
[0.2,4.0],[0.2,3.7],[0.21,3.35],[0.2,3.05],[0.22,3.8],[0.23,3.45],[0.24,3.15],[0.25,4.05],[0.27,3.6],[0.28,3.3]];
const luscBCore = [[0,3.2],[0,3.45],[0,3.7],[0,2.95],[0,2.7],[0.01,3.3],[0.01,3.6],[0.01,2.85],[0.01,4.0],[0.03,3.25],[0.03,3.55],[0.03,2.95],[0.03,3.85],[0.03,2.6],[0.05,3.35],[0.05,3.05],[0.05,3.65],[0.05,2.75],[0.05,4.1],[0.07,3.25],[0.07,3.5],[0.07,2.9],[0.07,3.8],[0.09,3.4],[0.09,3.1],[0.09,2.75],[0.09,3.7],[0.11,3.25],[0.11,3.55],[0.11,2.95],[0.11,4.0],[0.13,3.4],[0.13,3.1],[0.13,3.75],[0.13,2.65],[0.15,3.3],[0.15,2.95],[0.15,3.65],[0.17,3.4],[0.17,3.05],[0.17,2.7],[0.19,3.5],[0.19,2.85],[0.2,3.25],[0.22,3.0],[0.22,2.6],[0.04,2.35],[0.08,2.25],[0.12,2.2],[0.02,2.2]];

const luscMac = [[0,5.89],[0.05,5.91],[0.085,5.58],[0,5.39],[0.045,5.18],[0.19,5.14],[0.2,5.12],[0.21,4.89],[0.15,4.66],[0.157,4.63],[0.09,4.62],[0.3,4.5],[0.48,4.27],[0.22,4.35],[0.215,4.33],[0.107,4.39],[0.115,4.35],[0.142,4.22],[0.33,3.99],[1.12,3.96],[0.3,4.22],[0.43,3.77],[0.4,3.56],[0.47,3.49],[0.646,3.48],[0.58,3.04],[0.59,2.99],[0.63,2.99],[0.35,3.14],[0.35,2.89],[0.24,3.06],[0.3,2.68],[0.22,2.74],[0.17,2.81],[0.196,2.64],[0.15,2.43],[0.107,2.38],[0.178,2.27],[0.2,2.31],[0.246,2.29],[0.285,2.24],[0.415,2.23],[0.35,1.81],[0.107,1.85],[0.178,1.81],[0.2,1.53],[0.4,1.43],[0,1.64],[0,1.37],[0,1.31],[0,1.08],[0.09,2.06],[0.134,2.06],[0.07,2.23],
[0,4.8],[0,4.65],[0,4.5],[0,4.35],[0,4.2],[0,4.05],[0,3.9],[0,3.75],[0,3.6],[0,3.45],[0,3.3],[0,3.15],[0,3.0],[0,2.85],[0,2.7],[0,2.55],[0,2.4],[0,2.25],[0,2.1],[0,1.95],
[0.005,4.72],[0.005,4.42],[0.005,4.12],[0.005,3.82],[0.005,3.52],[0.005,3.22],[0.005,2.92],[0.005,2.62],[0.005,2.32],
[0.02,4.6],[0.02,4.25],[0.02,3.9],[0.02,3.55],[0.02,3.2],[0.02,2.85],[0.02,2.5],[0.02,2.2],
[0.04,4.45],[0.04,4.1],[0.04,3.75],[0.04,3.4],[0.04,3.05],[0.04,2.7],[0.04,2.35],
[0.06,4.3],[0.06,3.95],[0.06,3.6],[0.06,3.25],[0.06,2.9],[0.06,2.55],
[0.08,4.15],[0.08,3.8],[0.08,3.45],[0.08,3.1],[0.08,2.75],[0.08,2.45],
[0.1,4.0],[0.1,3.65],[0.1,3.3],[0.1,2.95],[0.1,2.6],
[0.12,3.85],[0.12,3.5],[0.13,3.15],[0.12,2.8],[0.14,4.1],[0.15,3.7],[0.16,3.35],[0.15,3.0],[0.18,3.9],[0.19,3.55],[0.2,3.2],[0.22,3.75],[0.24,3.45],[0.26,3.85],[0.28,3.3],[0.17,4.0],[0.11,4.4],[0.07,2.3]];
const luscMacCore = [[0,3.38],[0,3.52],[0,3.67],[0,3.82],[0,3.97],[0,3.22],[0,3.07],[0,2.92],[0,2.77],[0,2.62],[0,4.12],[0,4.27],[0,4.42],[0.005,3.37],[0.005,3.67],[0.005,3.97],[0.005,3.07],[0.005,2.77],[0.01,3.5],[0.01,3.8],[0.01,3.2],[0.01,4.1],[0.015,2.95],[0.015,3.35],[0.015,3.65],[0.02,3.05],[0.02,4.0],[0.025,3.4],[0.03,3.7],[0.03,3.2],[0.035,2.85],[0.04,3.55],[0.045,3.95],[0.05,3.3],[0.05,2.8],[0.055,3.7],[0.065,3.05],[0.07,3.5],[0.075,4.1],[0.08,3.25],[0.09,3.55],[0.1,2.8],[0.11,3.2],[0.12,3.65],[0.13,2.6],[0.14,3.4],[0.16,2.95],[0.17,3.55],[0.19,3.15],[0.21,3.45]];

const luscNeu = [[0.043,5.92],[0.157,5.88],[0,5.58],[0.16,5.38],[0.039,5.19],[0.13,5.13],[0.128,5.11],[0.006,4.94],[0.286,4.88],[0.31,4.88],[0.272,4.8],[0.13,4.86],[0.135,4.83],[0.157,4.82],[0.164,4.78],[0.107,4.75],[0.184,4.69],[0,4.67],[0,4.61],[0.22,4.57],[0.24,4.53],[0.096,4.53],[0.223,4.42],[0.19,4.33],[0.342,4.33],[0.414,4.08],[0.37,3.98],[0.31,3.94],[0.313,3.86],[0.314,3.52],[0.344,3.36],[0.322,3.15],[0.3,3.28],[0.26,3.28],[0.416,3.23],[0.46,3.28],[0.554,3.03],[0.27,3.0],[0.256,2.98],[0.245,2.78],[0.212,2.5],[0.248,2.55],[0.267,2.15],[0.19,2.28],[0.162,2.33],[0.171,2.36],[0.124,2.25],[0.09,2.23],[0.105,2.05],[0.068,2.07],[0.024,2.02],[0.013,2.11],[0.16,1.88],[0.1,1.8],[0.074,1.8],[0.028,1.63],[0.013,1.62],[0.046,1.51],[0,1.42],[0.008,1.28],[0.077,1.05],[0.353,1.36],[0,1.82],[0.716,4.13],
[0,4.4],[0,4.2],[0,4.0],[0,3.8],[0,3.6],[0,3.4],[0,3.2],[0,3.0],[0,2.8],[0,2.6],[0,2.4],
[0.015,4.3],[0.015,3.95],[0.015,3.6],[0.015,3.25],[0.015,2.9],[0.015,2.55],
[0.03,4.45],[0.03,4.1],[0.03,3.75],[0.03,3.4],[0.03,3.05],[0.03,2.7],[0.03,2.35],
[0.05,4.25],[0.05,3.9],[0.05,3.55],[0.05,3.2],[0.05,2.85],[0.05,2.5],
[0.07,4.4],[0.07,4.05],[0.07,3.7],[0.07,3.35],[0.07,3.0],[0.07,2.65],[0.07,2.35],
[0.09,4.2],[0.09,3.85],[0.09,3.5],[0.09,3.15],[0.09,2.8],[0.09,2.5],
[0.11,4.35],[0.11,4.0],[0.11,3.65],[0.11,3.3],[0.11,2.95],[0.11,2.6],
[0.13,4.15],[0.13,3.8],[0.13,3.45],[0.13,3.1],[0.13,2.75],[0.13,2.45],
[0.15,4.3],[0.15,3.95],[0.15,3.6],[0.15,3.25],[0.15,2.9],
[0.17,4.1],[0.17,3.75],[0.17,3.4],[0.17,3.05],[0.17,2.7],
[0.19,4.0],[0.19,3.65],[0.19,3.3],[0.19,2.95],
[0.21,3.85],[0.22,3.5],[0.21,3.15],[0.23,4.1],[0.24,3.7],[0.25,3.35],[0.27,3.9],[0.28,3.55],[0.29,4.2],[0.3,3.7],[0.2,2.65],[0.12,2.2]];
const luscNeuCore = [[0,3.3],[0,3.5],[0,3.7],[0,3.1],[0,2.9],[0,3.9],[0.005,3.4],[0.01,3.8],[0.01,3.0],[0.02,3.55],[0.02,3.2],[0.025,4.1],[0.04,3.3],[0.04,3.7],[0.04,2.8],[0.045,3.95],[0.06,3.45],[0.06,3.1],[0.06,2.6],[0.08,3.55],[0.08,3.2],[0.08,3.9],[0.1,3.4],[0.1,3.05],[0.1,2.7],[0.12,3.6],[0.12,3.3],[0.12,3.95],[0.14,3.45],[0.14,3.1],[0.14,2.7],[0.16,3.55],[0.16,3.2],[0.16,3.9],[0.18,3.45],[0.18,2.85],[0.2,3.3],[0.2,3.75],[0.22,3.05],[0.23,3.35],[0.26,3.6],[0.28,3.2],[0.03,2.5],[0.09,2.4],[0.15,2.4]];

const panelPoints = [
  lihcPurity.concat(lihcPurityCore), lihcCD4.concat(lihcCD4Core), lihcCD8.concat(lihcCD8Core),
  lihcB.concat(lihcBCore), lihcMac.concat(lihcMacCore), lihcNeu.concat(lihcNeuCore),
  luscPurity.concat(luscPurityCore), luscCD4.concat(luscCD4Core), luscCD8.concat(luscCD8Core),
  luscB.concat(luscBCore), luscMac.concat(luscMacCore), luscNeu.concat(luscNeuCore)
];

// ---------------- LAYOUT (pixel geometry of each panel) ----------------
const L = [
 {st:14,sb:36,pb:239,l:94,r:312,xc:[0.25,148.3,1,301.7],yc:[0,236,5,40],ys:1,lab:248,tx:176,ty:267,rx:310,r1:42.8,r2:54.2},
 {st:14,sb:36,pb:239,l:344.3,r:588.3,xc:[0,355,2,585],yc:[0,236.7,5,40.7],ys:1,lab:248,tx:476.7,ty:267,rx:585.7,r1:42.6,r2:54},
 {st:10,sb:32.3,pb:237.3,l:620,r:841.7,xc:[0,629.3,2,812.3],yc:[0,236,5,37.7],ys:1,lab:252.5,tx:741.7,ty:268,rx:838.3,r1:40.3,r2:51.7},
 {st:9.3,sb:32.3,pb:240,l:869.3,r:1106.7,xc:[0,880,1.5,1070],yc:[0,235,6,51.7],ys:2,lab:252,tx:999.3,ty:267.7,rx:1104.3,r1:39.7,r2:51},
 {st:10,sb:32.3,pb:239.3,l:1133.3,r:1367.3,xc:[0,1144,1.5,1364.3],yc:[0,236.3,5,38.3],ys:1,lab:250,tx:1261.7,ty:267.7,rx:1364.3,r1:39.7,r2:51},
 {st:10,sb:32.3,pb:239.3,l:1399.3,r:1622.3,xc:[0,1402.7,0.6,1575],yc:[0,236,5,37.7],ys:1,lab:250.7,tx:1521.7,ty:267.7,rx:1620,r1:40.3,r2:51.7},
 {st:304,sb:326,pb:538.3,l:94.3,r:316,xc:[0,95,1,308.3],yc:[1,532.3,6,331.7],ys:1,lab:549.3,tx:174,ty:566.7,rx:314,r1:334.5,r2:345.5},
 {st:305,sb:327.3,pb:539.3,l:345,r:582.7,xc:[0,355,1.5,541.7],yc:[1,532.3,6,338.3],ys:1,lab:551.7,tx:475.7,ty:567.3,rx:580,r1:334.7,r2:346},
 {st:306,sb:328.3,pb:538.3,l:620.7,r:842.3,xc:[0,630,0.75,803.3],yc:[1,531.7,6,338],ys:1,lab:551.7,tx:741.7,ty:567.3,rx:840,r1:337,r2:348.3},
 {st:305,sb:327.3,pb:539.3,l:867.3,r:1105,xc:[0,878.3,2,1080],yc:[1,531.7,7,353.3],ys:2,lab:551.7,tx:998.3,ty:567.3,rx:1102.7,r1:334.7,r2:346},
 {st:304,sb:326,pb:538.3,l:1135,r:1364.3,xc:[0,1145,0.9,1313.3],yc:[1,532.3,6,332.3],ys:1,lab:550.7,tx:1261,ty:567,rx:1362.3,r1:333.7,r2:345},
 {st:304,sb:326,pb:539,l:1400.7,r:1637.3,xc:[0,1411,0.6,1592.3],yc:[1,532.7,6,332.7],ys:1,lab:551.7,tx:1530,ty:567,rx:1634.3,r1:334.5,r2:345.7}
];
const rowStrip = [{l:72,yl:68,ytx:47,yty:138,lx:13,ly:31},{l:72.3,yl:68,ytx:47,yty:425,lx:17,ly:322}];

// ---------------- RENDER ----------------
const FONT = "'DejaVu Sans', sans-serif";
const svg = d3.select("#c");
svg.append("rect").attr("width",1644).attr("height",579).attr("fill","#fff");
const defs = svg.append("defs");

L.forEach((g,i)=>{
  const row = Math.floor(i/6), col = i%6;
  const x = d3.scaleLinear().domain([g.xc[0],g.xc[2]]).range([g.xc[1],g.xc[3]]);
  const y = d3.scaleLinear().domain([g.yc[0],g.yc[2]]).range([g.yc[1],g.yc[3]]);
  const xd = [x.invert(g.l), x.invert(g.r)];
  const yd = [y.invert(g.pb), y.invert(g.sb)];
  const clipId = "clip"+i;
  defs.append("clipPath").attr("id",clipId).append("rect")
     .attr("x",g.l).attr("y",g.sb).attr("width",g.r-g.l).attr("height",g.pb-g.sb);
  const G = svg.append("g");
  const P = G.append("g").attr("clip-path",`url(#${clipId})`);
  P.append("rect").attr("x",g.l).attr("y",g.sb).attr("width",g.r-g.l).attr("height",g.pb-g.sb).attr("fill","#fff");

  const xt = xTicks[i], xstep = xt[1]-xt[0];
  const xMinor = [];
  for(let k=-1;k<xt.length;k++){ const v = xt[0]+(k+0.5)*xstep; if(v>=xd[0] && v<=xd[1]) xMinor.push(v); }
  const yMajor = [], yMinor = [];
  for(let k=Math.ceil(yd[0]/g.ys); k*g.ys<=yd[1]; k++) yMajor.push(k*g.ys);
  for(let k=Math.floor(yd[0]/g.ys); k*g.ys<=yd[1]; k++){ const v=(k+0.5)*g.ys; if(v>=yd[0]&&v<=yd[1]) yMinor.push(v); }
  P.selectAll(".xm").data(xMinor).join("line").attr("x1",d=>x(d)).attr("x2",d=>x(d)).attr("y1",g.sb).attr("y2",g.pb).attr("stroke","#EBEBEB").attr("stroke-width",0.7);
  P.selectAll(".ym").data(yMinor).join("line").attr("y1",d=>y(d)).attr("y2",d=>y(d)).attr("x1",g.l).attr("x2",g.r).attr("stroke","#EBEBEB").attr("stroke-width",0.7);
  P.selectAll(".xM").data(xt).join("line").attr("x1",d=>x(d)).attr("x2",d=>x(d)).attr("y1",g.sb).attr("y2",g.pb).attr("stroke","#E6E6E6").attr("stroke-width",1.3);
  P.selectAll(".yM").data(yMajor).join("line").attr("y1",d=>y(d)).attr("y2",d=>y(d)).attr("x1",g.l).attr("x2",g.r).attr("stroke","#E6E6E6").attr("stroke-width",1.3);

  P.selectAll("circle").data(panelPoints[i]).join("circle")
    .attr("cx",d=>x(d[0])).attr("cy",d=>y(d[1])).attr("r",2.35)
    .attr("fill","#000").attr("fill-opacity",0.5);

  const area = d3.area().x(d=>x(d[0])).y0(d=>y(d[1])).y1(d=>y(d[2])).curve(d3.curveMonotoneX);
  P.append("path").attr("d",area(bands[i])).attr("fill","#999").attr("fill-opacity",0.45);
  const line = d3.line().x(d=>x(d[0])).y(d=>y(d[1]));
  P.append("path").attr("d",line(fitLines[i])).attr("stroke","#3366FF").attr("stroke-width",1.7).attr("fill","none");

  G.append("rect").attr("x",g.l).attr("y",g.sb).attr("width",g.r-g.l).attr("height",g.pb-g.sb)
    .attr("fill","none").attr("stroke","#666").attr("stroke-width",1);

  G.append("rect").attr("x",g.l).attr("y",g.st).attr("width",g.r-g.l).attr("height",g.sb-g.st)
    .attr("fill","#D9D9D9").attr("stroke","#555").attr("stroke-width",1);
  G.append("text").attr("x",(g.l+g.r)/2).attr("y",(g.st+g.sb)/2+0.5).attr("text-anchor","middle")
    .attr("dominant-baseline","central").attr("font-family",FONT).attr("font-size",12).attr("fill","#1A1A1A").text(cellTypes[col]);

  G.selectAll(".xt").data(xt).join("line").attr("x1",d=>x(d)).attr("x2",d=>x(d)).attr("y1",g.pb).attr("y2",g.pb+3.5).attr("stroke","#333").attr("stroke-width",1);
  G.selectAll(".xl").data(xt).join("text").attr("x",d=>x(d)).attr("y",g.lab).attr("text-anchor","middle").attr("dominant-baseline","central")
    .attr("font-family",FONT).attr("font-size",11.5).attr("fill","#4D4D4D").text(d=>d3.format(xTickFormat[i])(d));
  G.append("text").attr("x",g.tx).attr("y",g.ty).attr("text-anchor","middle").attr("dominant-baseline","central")
    .attr("font-family",FONT).attr("font-size",16).attr("fill","#000").text(xTitles[col]);

  G.append("text").attr("x",g.rx).attr("y",g.r1).attr("text-anchor","end").attr("dominant-baseline","central")
    .attr("font-family",FONT).attr("font-size",11).attr("fill","#FF0000").text(rhoLabels[i]);
  G.append("text").attr("x",g.rx).attr("y",g.r2).attr("text-anchor","end").attr("dominant-baseline","central")
    .attr("font-family",FONT).attr("font-size",11).attr("fill","#FF0000").text(pLabels[i]);

  if(col===0){
    const rs = rowStrip[row];
    G.append("rect").attr("x",rs.l).attr("y",g.sb).attr("width",g.l-rs.l).attr("height",g.pb-g.sb)
      .attr("fill","#D9D9D9").attr("stroke","#555").attr("stroke-width",1);
    G.append("line").attr("x1",g.l).attr("x2",g.l).attr("y1",g.sb).attr("y2",g.pb).attr("stroke","#333").attr("stroke-width",1.3);
    G.append("text").attr("transform",`translate(${(rs.l+g.l)/2+0.5},${(g.sb+g.pb)/2}) rotate(-90)`)
      .attr("text-anchor","middle").attr("dominant-baseline","central").attr("font-family",FONT).attr("font-size",12).attr("fill","#1A1A1A").text(cancers[row]);
    const yl = row===0 ? yTickLabelsA : yTickLabelsB;
    G.selectAll(".yt").data(yl).join("line").attr("x1",rs.l-3.5).attr("x2",rs.l).attr("y1",d=>y(d)).attr("y2",d=>y(d)).attr("stroke","#333").attr("stroke-width",1);
    G.selectAll(".yl").data(yl).join("text").attr("x",rs.yl).attr("y",d=>y(d)).attr("text-anchor","end").attr("dominant-baseline","central")
      .attr("font-family",FONT).attr("font-size",11.5).attr("fill","#4D4D4D").text(d=>d);
    G.append("text").attr("transform",`translate(${rs.ytx},${rs.yty}) rotate(-90)`).attr("text-anchor","middle").attr("dominant-baseline","central")
      .attr("font-family",FONT).attr("font-size",14.5).attr("fill","#000").text(yTitle);
    G.append("text").attr("x",rs.lx).attr("y",rs.ly).attr("font-family","'Liberation Sans', Arial, sans-serif").attr("font-size",25).attr("fill","#000").text(rowLetters[row]);
  }
});
</script>
</body></html>
